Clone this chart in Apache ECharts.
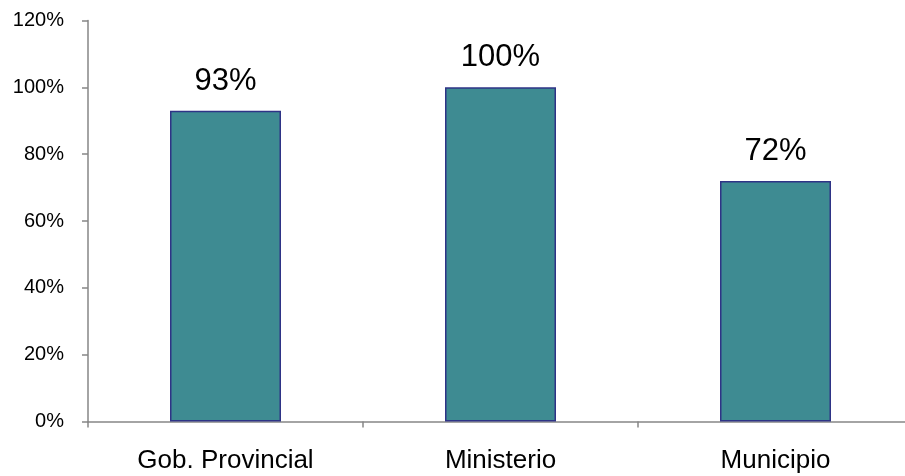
<!DOCTYPE html>
<html><head><meta charset="utf-8">
<script src="https://cdn.jsdelivr.net/npm/echarts@6/dist/echarts.min.js"></script>
<style>html,body{margin:0;padding:0;background:#fff}#c{width:905px;height:476px}</style>
</head><body><div id="c"></div>
<script>
const categories = ["Gob. Provincial", "Ministerio", "Municipio"];
const values = [93, 100, 72];
const yTicks = {min: 0, max: 120, interval: 20};

const chart = echarts.init(document.getElementById('c'));
chart.setOption({
  animation: false,
  grid: {left: 88, width: 825, top: 20.5, bottom: 54.5, containLabel: false, outerBoundsMode: 'none'},
  xAxis: {
    type: 'category', data: categories,
    axisLine: {lineStyle: {color: '#868686', width: 1.5}},
    axisTick: {show: true, inside: false, length: 6, lineStyle: {color: '#868686', width: 1.5}},
    axisLabel: {fontFamily: 'Liberation Sans', fontSize: 26, color: '#000', margin: 26}
  },
  yAxis: {
    type: 'value', min: yTicks.min, max: yTicks.max, interval: yTicks.interval,
    splitLine: {show: false},
    axisLine: {show: true, lineStyle: {color: '#868686', width: 1.5}},
    axisTick: {show: true, inside: false, length: 6, lineStyle: {color: '#868686', width: 1.5}},
    axisLabel: {formatter: '{value}%', fontFamily: 'Liberation Sans', fontSize: 20, color: '#000', margin: 24}
  },
  series: [{
    type: 'bar', data: values, barWidth: 111,
    itemStyle: {color: '#3E8B92', borderColor: '#2E3386', borderWidth: 1.5},
    label: {show: true, position: 'top', formatter: '{c}%', fontFamily: 'Liberation Sans', fontSize: 31, color: '#000', distance: 14}
  }]
});
</script></body></html>
